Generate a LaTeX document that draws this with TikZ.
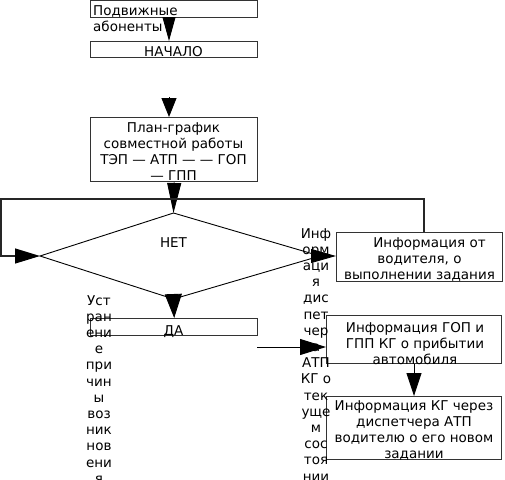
\documentclass[tikz,border=0pt]{standalone}
\usepackage{fontspec}
\setmainfont{DejaVu Sans}
\usetikzlibrary{arrows.meta,calc}
\newcommand\ctext[2]{\smash{\parbox[t]{#1pt}{\centering\fontsize{13.5}{16.2}\selectfont #2}}}
\newcommand\ltext[2]{\smash{\parbox[t]{#1pt}{\raggedright\fontsize{13.5}{16.2}\selectfont #2}}}
\begin{document}
\begin{tikzpicture}[x=1pt,y=-1pt,
  box/.style={draw=black!80, line width=1.4pt, inner sep=0pt, anchor=north west},
  txt/.style={inner sep=0pt, anchor=base},
  ltxt/.style={inner sep=0pt, anchor=base west},
  shape line/.style={draw=black, line width=0.9pt},
  loopline/.style={draw=black!85, line width=1.2pt},
  conn/.style={draw=black, line width=0.9pt}]
\useasboundingbox (0,0) rectangle (505,479);

% boxes
\node[box, minimum width=167pt, minimum height=17pt] (b1) at (90,0) {};
\node[box, minimum width=167pt, minimum height=16pt] (b2) at (90,41) {};
\node[box, minimum width=167pt, minimum height=64pt] (b3) at (90,117) {};
\node[box, minimum width=166pt, minimum height=49pt] (b4) at (336,232) {};
\node[box, minimum width=167pt, minimum height=17pt] (b5) at (90,318) {};
\node[box, minimum width=175pt, minimum height=48pt] (b6) at (326,315) {};
\node[box, minimum width=175pt, minimum height=63pt] (b7) at (326,396) {};

% diamond
\coordinate (dW) at (40,256);
\coordinate (dN) at (173.5,213);
\coordinate (dE) at (320,256);
\coordinate (dS) at (173.5,299);
\draw[shape line] (dW) -- (dN) -- (dE) -- (dS) -- cycle;

% texts
\node[ltxt] (t1) at (93,15) {\ltext{170}{Подвижные\\абоненты}};
\node[txt] (t2) at (173.5,56) {\ctext{160}{НАЧАЛО}};
\node[txt] (t3) at (173.5,132) {\ctext{180}{План-график\\совместной работы\\ТЭП — АТП — — ГОП\\— ГПП}};
\node[txt] (tn) at (173.5,247) {\ctext{60}{НЕТ}};
\node[txt] (t4) at (419.5,247) {\ctext{180}{\hspace*{20pt}Информация от\\водителя, о\\выполнении задания}};
\node[txt] (t5) at (173.5,335) {\ctext{60}{ДА}};
\node[txt] (t6) at (415,332) {\ctext{180}{Информация ГОП и\\ГПП КГ о прибытии\\автомобиля}};
\node[txt] (t7) at (414,410) {\ctext{180}{Информация КГ через\\диспетчера АТП\\водителю о его новом\\задании}};
\node[txt] (tc1) at (316,238) {\ctext{36}{Инф\\орм\\аци\\я\\дис\\пет\\чер\\а\\АТП\\КГ о\\тек\\уще\\м\\сос\\тоя\\нии}};
\node[txt] (tc2) at (99,305) {\ctext{36}{Уст\\ран\\ени\\е\\при\\чин\\ы\\воз\\ник\\нов\\ени\\я}};

% connectors
\draw[conn, -{Triangle[length=24pt,width=13pt]}] ($(b1.south west)+(79,0)$) -- ($(b2.north west)+(79,0)$);
\coordinate (a2) at ($(b3.north west)+(79,-20)$);
\draw[conn, -{Triangle[length=19pt,width=15pt]}] (a2) -- ($(b3.north west)+(79,0)$);
\draw[conn, -{Triangle[length=30pt,width=14pt]}] (b3.south) -- (dN);
\coordinate (loopTR) at (424,199);
\coordinate (loopTL) at (1,199);
\draw[loopline, -{Triangle[length=25pt,width=15pt,color=black]}] (b4.north -| loopTR) -- (loopTR) -- (loopTL) |- (dW);
\draw[conn, -{Triangle[length=25pt,width=14pt]}] (dE) -- (b4.west |- dE);
\draw[conn, -{Triangle[length=24pt,width=17pt]}] (dS) -- (b5.north);
\coordinate (daOut) at (257,347);
\draw[conn, -{Triangle[length=26pt,width=16pt]}] (daOut) -- (b6.west |- daOut);
\draw[conn, -{Triangle[length=23pt,width=15pt]}] ($(b6.south west)+(88,0)$) -- ($(b7.north west)+(88,0)$);
\end{tikzpicture}
\end{document}
